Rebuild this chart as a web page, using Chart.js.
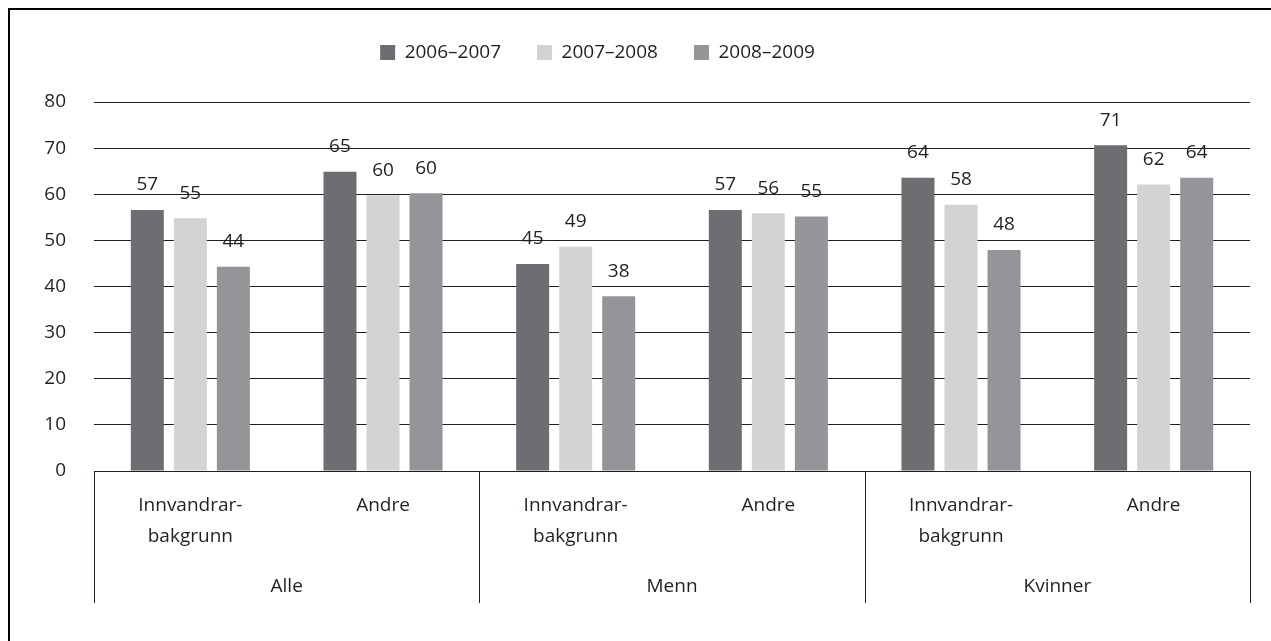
<!DOCTYPE html>
<html>
<head>
<meta charset="utf-8">
<script src="https://cdn.jsdelivr.net/npm/chart.js@4.4.0/dist/chart.umd.min.js"></script>
<style>
	body { margin: 0; background: #fff; }
	#frame { position: absolute; left: 8px; top: 8px; right: 0; bottom: 0; border-top: 2px solid #000; border-left: 2px solid #000; }
	#chart { position: absolute; left: 0; top: 0; }
</style>
</head>
<body>
<div id="frame"></div>
<canvas id="chart" width="1271" height="641"></canvas>
<script>
// Kategoriar og grupper
const categories = [['Innvandrar-', 'bakgrunn'], 'Andre', ['Innvandrar-', 'bakgrunn'], 'Andre', ['Innvandrar-', 'bakgrunn'], 'Andre'];
const groups = ['Alle', 'Menn', 'Kvinner'];
const seriesNames = ['2006–2007', '2007–2008', '2008–2009'];

// Verdiar lesne av figuren
const values0607 = [56.6, 64.9, 44.9, 56.6, 63.6, 70.6];
const values0708 = [54.8, 59.8, 48.6, 55.9, 57.7, 62.1];
const values0809 = [44.3, 60.2, 37.9, 55.2, 47.9, 63.6];

const yMin = 0;
const yMax = 80;
const yStep = 10;

const textColor = '#231f20';
const barColors = ['#6d6e71', '#d1d3d4', '#939598'];

Chart.defaults.font.family = '"Open Sans", sans-serif';
Chart.defaults.font.size = 19;
Chart.defaults.color = textColor;

// Tal over kvar søyle
const valueLabels = {
	id: 'valueLabels',
	afterDatasetsDraw(chart) {
		const ctx = chart.ctx;
		ctx.save();
		ctx.font = '19px "Open Sans", sans-serif';
		ctx.fillStyle = textColor;
		ctx.textAlign = 'center';
		ctx.textBaseline = 'middle';
		chart.data.datasets.forEach((ds, i) => {
			chart.getDatasetMeta(i).data.forEach((bar, j) => {
				ctx.fillText(Math.round(ds.data[j]), bar.x, bar.y - 25);
			});
		});
		ctx.restore();
	}
};

// Loddrette skiljeliner mellom gruppene under aksen
const groupLines = {
	id: 'groupLines',
	beforeInit(chart) {
		const fit = chart.legend.fit;
		chart.legend.fit = function() {
			fit.call(this);
			this.height += 30;
		};
	},
	afterLayout(chart) {
		// flytt forklaringa litt til venstre
		chart.legend.right -= 55;
	},
	afterDraw(chart) {
		const x2 = chart.scales.x2;
		const ctx = chart.ctx;
		const band = x2.getPixelForValue(1) - x2.getPixelForValue(0);
		ctx.save();
		ctx.strokeStyle = textColor;
		ctx.lineWidth = 1;
		for (let i = 0; i <= groups.length; i++) {
			const px = Math.round(x2.getPixelForValue(i) - band / 2) + 0.5;
			ctx.beginPath();
			ctx.moveTo(px, chart.chartArea.bottom);
			ctx.lineTo(px, x2.bottom);
			ctx.stroke();
		}
		ctx.restore();
	}
};

new Chart(document.getElementById('chart'), {
	type: 'bar',
	data: {
		labels: categories,
		datasets: [
			{ label: seriesNames[0], data: values0607, backgroundColor: barColors[0] },
			{ label: seriesNames[1], data: values0708, backgroundColor: barColors[1] },
			{ label: seriesNames[2], data: values0809, backgroundColor: barColors[2] }
		]
	},
	options: {
		responsive: false,
		animation: false,
		categoryPercentage: 0.67,
		barPercentage: 0.767,
		layout: { padding: { top: 7, right: 21, bottom: 38, left: 0 } },
		plugins: {
			legend: {
				position: 'top',
				labels: { boxWidth: 15, boxHeight: 15, padding: 36, color: textColor }
			},
			tooltip: { enabled: false }
		},
		scales: {
			y: {
				min: yMin,
				max: yMax,
				ticks: { stepSize: yStep, padding: 28, color: textColor },
				grid: { color: textColor, lineWidth: 1, drawTicks: false },
				border: { display: false },
				afterFit(scale) { scale.width = 94; }
			},
			x: {
				grid: { display: false, drawTicks: false },
				border: { display: false },
				ticks: { padding: 19, maxRotation: 0, autoSkip: false, color: textColor, font: { lineHeight: 1.63 } },
				afterFit(scale) { scale.height = 89; }
			},
			x2: {
				type: 'category',
				labels: groups,
				position: 'bottom',
				offset: true,
				grid: { display: false, drawTicks: false },
				border: { display: false },
				ticks: { padding: 15, maxRotation: 0, color: textColor },
				afterFit(scale) { scale.height = 43; }
			}
		}
	},
	plugins: [valueLabels, groupLines]
});
</script>
</body>
</html>
